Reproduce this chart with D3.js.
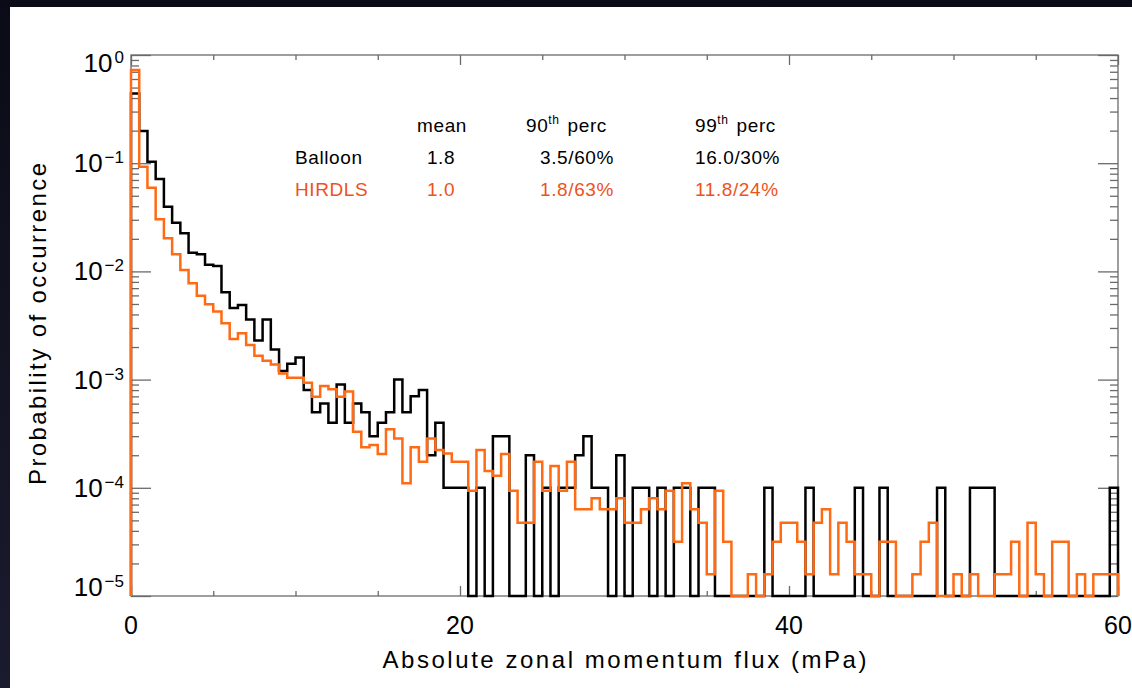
<!DOCTYPE html>
<html>
<head>
<meta charset="utf-8">
<script src="https://cdn.jsdelivr.net/npm/d3@7"></script>
<style>
  html, body { margin: 0; padding: 0; background: #0e0e1c; }
  svg { display: block; }
  text { font-family: "Liberation Sans", Arial, sans-serif; }
</style>
</head>
<body>
<svg id="chart" width="1132" height="688"></svg>
<script>
// Histogram bins: 0.5 mPa wide, 0 to 60 mPa
const binWidth = 0.5;
const xDomain = [0, 60];
const yDomain = [1e-5, 1];

// Balloon probability per bin (zero bins sit on the lower axis)
const balloon = [
  0.44, 0.198, 0.103, 0.0714, 0.0396, 0.0282, 0.0225, 0.0149, 0.0144, 0.0115,
  0.0112, 0.0064, 0.0046, 0.0049, 0.0036, 0.0023, 0.0036, 0.0019, 0.0012, 0.0014,
  0.0016, 0.0008, 0.0005, 0.0006, 0.0004, 0.0009, 0.0004, 0.0006, 0.0005, 0.0003,
  0.0004, 0.0005, 0.0010, 0.0005, 0.0007, 0.0008, 0.0002, 0.0004, 0.0001, 0.0001,
  0.0001, 0, 0.0001, 0, 0.0003, 0.0003, 0, 0, 0.0002, 0,
  0.0001, 0, 0.0001, 0.0001, 0.0002, 0.0003, 0.0001, 0.0001, 0, 0.0002,
  0, 0.0001, 0.0001, 0, 0.0001, 0, 0.0001, 0.0001, 0, 0.0001,
  0.0001, 0, 0, 0, 0, 0, 0, 0.0001, 0, 0,
  0, 0, 0.0001, 0, 0, 0, 0, 0, 0.0001, 0,
  0, 0.0001, 0, 0, 0, 0, 0, 0, 0.0001, 0,
  0, 0, 0.0001, 0.0001, 0.0001, 0, 0, 0, 0, 0,
  0, 0, 0, 0, 0, 0, 0, 0, 0, 0.0001
];

// HIRDLS probability per bin
const hirdls = [
  0.727, 0.0929, 0.0594, 0.0303, 0.0202, 0.0144, 0.0103, 0.00776, 0.00597, 0.00497,
  0.00425, 0.00331, 0.00237, 0.00268, 0.00209, 0.00166, 0.00149, 0.00138, 0.00114, 0.00104,
  0.00104, 0.000937, 0.000695, 0.000873, 0.000813, 0.000695, 0.000775, 0.00033, 0.000237, 0.000249,
  0.000205, 0.000348, 0.000286, 0.00011, 0.000237, 0.000174, 0.000286, 0.000223, 0.000208, 0.000174,
  0.000174, 0.000094, 0.000223, 0.000143, 0.000129, 0.000205, 0.000094, 0.0000476, 0.0000476, 0.000174,
  0.000094, 0.000159, 0.000094, 0.000174, 0.0000633, 0.0000633, 0.00008, 0.0000633, 0.0000633, 0.00008,
  0.0000476, 0.0000476, 0.0000633, 0.00008, 0.0000633, 0.000094, 0.0000318, 0.00011, 0.0000633, 0.0000476,
  0.0000159, 0.000094, 0.0000318, 0, 0, 0.0000159, 0, 0.0000159, 0.0000318, 0.0000476,
  0.0000476, 0.0000318, 0.0000159, 0.0000476, 0.0000633, 0.0000159, 0.0000476, 0.0000318, 0.0000159, 0.0000159,
  0, 0.0000318, 0.0000318, 0, 0, 0.0000159, 0.0000318, 0.0000476, 0, 0,
  0.0000159, 0, 0.0000159, 0, 0, 0.0000159, 0.0000159, 0.0000318, 0, 0.0000476,
  0.0000159, 0, 0.0000318, 0.0000318, 0, 0.0000159, 0, 0.0000159, 0.0000159, 0.0000159
];

// Summary statistics table
const statHeaders = ["mean", "90", "99"];
const seriesNames = ["Balloon", "HIRDLS"];
const statMean = ["1.8", "1.0"];
const stat90 = ["3.5/60%", "1.8/63%"];
const stat99 = ["16.0/30%", "11.8/24%"];

// Axis tick values
const xMajorTicks = [0, 20, 40, 60];
const xMinorTicks = [5, 10, 15, 25, 30, 35, 45, 50, 55];
const yExponents = [0, -1, -2, -3, -4, -5];

const colors = { balloon: "#000000", hirdls: "#ff6a14", hirdlsText: "#ee5220", axis: "#6a6a6a" };

const svg = d3.select("#chart");
const W = 1132, H = 688;
const plot = { left: 131, right: 1118, top: 55, bottom: 596 };

// dark surround and white page
const defs = svg.append("defs");
const grad = defs.append("linearGradient").attr("id", "bg").attr("x1", 0).attr("y1", 0).attr("x2", 0).attr("y2", 1);
grad.append("stop").attr("offset", "0%").attr("stop-color", "#0b0b17");
grad.append("stop").attr("offset", "100%").attr("stop-color", "#1b1b2e");
svg.append("rect").attr("width", W).attr("height", H).attr("fill", "url(#bg)");
svg.append("rect").attr("x", 10).attr("y", 7).attr("width", W - 10).attr("height", H - 7).attr("fill", "#ffffff");

const x = d3.scaleLinear().domain(xDomain).range([plot.left, plot.right]);
const y = d3.scaleLog().domain(yDomain).range([plot.bottom, plot.top]);

// ---- axes ----
function styleAxis(g) {
  g.select(".domain").remove();
  g.selectAll(".tick line").attr("stroke", colors.axis).attr("stroke-width", 1.3);
  g.selectAll(".tick text").remove();
}

// bottom & top: majors and minors, ticks pointing into the plot
svg.append("g").attr("transform", `translate(0,${plot.bottom})`)
  .call(d3.axisBottom(x).tickValues(xMajorTicks).tickSize(-10)).call(styleAxis);
svg.append("g").attr("transform", `translate(0,${plot.bottom})`)
  .call(d3.axisBottom(x).tickValues(xMinorTicks).tickSize(-5)).call(styleAxis);
svg.append("g").attr("transform", `translate(0,${plot.top})`)
  .call(d3.axisTop(x).tickValues(xMajorTicks).tickSize(-10)).call(styleAxis);
svg.append("g").attr("transform", `translate(0,${plot.top})`)
  .call(d3.axisTop(x).tickValues(xMinorTicks).tickSize(-5)).call(styleAxis);

// left & right: decade majors and 2..9 minors
const yMajor = yExponents.map(e => Math.pow(10, e));
const yMinor = [];
yExponents.slice(1).forEach(e => { for (let m = 2; m <= 9; m++) yMinor.push(m * Math.pow(10, e)); });

svg.append("g").attr("transform", `translate(${plot.left},0)`)
  .call(d3.axisLeft(y).tickValues(yMajor).tickSize(-20)).call(styleAxis);
svg.append("g").attr("transform", `translate(${plot.left},0)`)
  .call(d3.axisLeft(y).tickValues(yMinor).tickSize(-8)).call(styleAxis);
svg.append("g").attr("transform", `translate(${plot.right},0)`)
  .call(d3.axisRight(y).tickValues(yMajor).tickSize(-20)).call(styleAxis);
svg.append("g").attr("transform", `translate(${plot.right},0)`)
  .call(d3.axisRight(y).tickValues(yMinor).tickSize(-8)).call(styleAxis);

// frame
svg.append("rect")
  .attr("x", plot.left).attr("y", plot.top)
  .attr("width", plot.right - plot.left).attr("height", plot.bottom - plot.top)
  .attr("fill", "none").attr("stroke", colors.axis).attr("stroke-width", 1.3);

// x tick labels
svg.append("g").selectAll("text").data(xMajorTicks).join("text")
  .attr("x", d => x(d)).attr("y", 634)
  .attr("text-anchor", "middle").attr("font-size", 25).attr("fill", "#000")
  .text(d => d);

// y tick labels: 10 with superscript exponent
const yLab = svg.append("g").selectAll("text").data(yExponents).join("text")
  .attr("x", 124)
  .attr("y", e => {
    const ty = y(Math.pow(10, e));
    if (e === 0) return ty + 17;
    if (e === -5) return ty;
    return ty + 9;
  })
  .attr("text-anchor", "end").attr("fill", "#000");
yLab.append("tspan").attr("font-size", 26).text("10");
yLab.append("tspan").attr("font-size", 17).attr("dx", 2).attr("dy", -9)
  .text(e => e === 0 ? "0" : "\u2212" + Math.abs(e));

// axis titles
svg.append("text")
  .attr("x", (plot.left + plot.right) / 2).attr("y", 668)
  .attr("text-anchor", "middle").attr("font-size", 24).attr("fill", "#000")
  .attr("textLength", 484).attr("lengthAdjust", "spacing")
  .text("Absolute zonal momentum flux (mPa)");

svg.append("text")
  .attr("transform", "translate(46,324) rotate(-90)")
  .attr("text-anchor", "middle").attr("font-size", 24).attr("fill", "#000")
  .attr("textLength", 322).attr("lengthAdjust", "spacing")
  .text("Probability of occurrence");

// ---- histograms ----
function stepPoints(vals) {
  const floor = yDomain[0];
  const pts = [[xDomain[0], floor]];
  vals.forEach((v, i) => {
    const vv = Math.max(v, floor);
    pts.push([i * binWidth, vv]);
    pts.push([(i + 1) * binWidth, vv]);
  });
  pts.push([vals.length * binWidth, floor]);
  return pts;
}
const line = d3.line().x(d => x(d[0])).y(d => y(d[1]));

svg.append("path").attr("d", line(stepPoints(balloon)))
  .attr("fill", "none").attr("stroke", colors.balloon).attr("stroke-width", 2.5)
  .attr("stroke-linejoin", "miter");
svg.append("path").attr("d", line(stepPoints(hirdls)))
  .attr("fill", "none").attr("stroke", colors.hirdls).attr("stroke-width", 2.5)
  .attr("stroke-linejoin", "miter");

// ---- statistics table ----
const tbl = svg.append("g").attr("font-size", 19).attr("letter-spacing", 0.6);
const rowY = [164, 196];
const headY = 132;

tbl.append("text").attr("x", 442).attr("y", headY).attr("text-anchor", "middle").attr("fill", "#000").text(statHeaders[0]);
const h90 = tbl.append("text").attr("x", 526).attr("y", headY).attr("fill", "#000");
h90.append("tspan").text(statHeaders[1]);
h90.append("tspan").attr("font-size", 12).attr("dy", -8).text("th");
h90.append("tspan").attr("dy", 8).attr("dx", 8).text("perc");
const h99 = tbl.append("text").attr("x", 695).attr("y", headY).attr("fill", "#000");
h99.append("tspan").text(statHeaders[2]);
h99.append("tspan").attr("font-size", 12).attr("dy", -8).text("th");
h99.append("tspan").attr("dy", 8).attr("dx", 8).text("perc");

const rowColors = [colors.balloon, colors.hirdlsText];
seriesNames.forEach((name, i) => {
  const c = rowColors[i];
  tbl.append("text").attr("x", 295).attr("y", rowY[i]).attr("fill", c).text(name);
  tbl.append("text").attr("x", 441).attr("y", rowY[i]).attr("text-anchor", "middle").attr("fill", c).text(statMean[i]);
  tbl.append("text").attr("x", 614).attr("y", rowY[i]).attr("text-anchor", "end").attr("fill", c).text(stat90[i]);
  tbl.append("text").attr("x", 695).attr("y", rowY[i]).attr("fill", c).text(stat99[i]);
});
</script>
</body>
</html>
